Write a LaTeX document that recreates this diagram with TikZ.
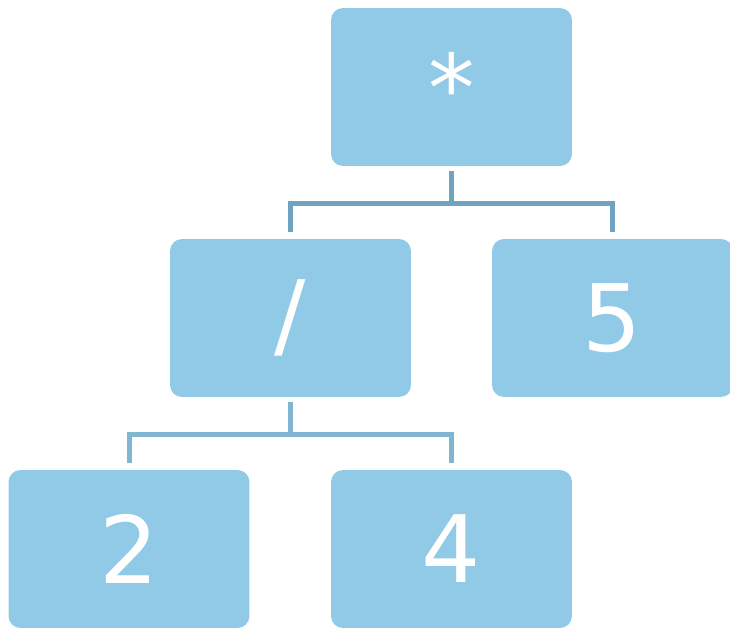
\documentclass[tikz,border=0pt]{standalone}
\usepackage{fontspec}
\setmainfont{DejaVu Sans}
\usepackage{tikz}
\usetikzlibrary{positioning}

\definecolor{boxblue}{HTML}{90CAE6}
\definecolor{linkdark}{HTML}{6FA3BF}
\definecolor{linklight}{HTML}{80B6CF}

\tikzset{
  opbox/.style={fill=boxblue, rounded corners=0.24cm, minimum width=4.82cm,
    minimum height=3.16cm, inner sep=0pt, text=white,
    font=\fontsize{53}{60}\selectfont},
  link/.style={line width=0.1cm}
}

\begin{document}
\begin{tikzpicture}[x=0.02cm,y=-0.02cm]

\useasboundingbox (0,0) rectangle (730,629);

\node [opbox] (times) at (451.5,87) {*};
\node [opbox] (divide) at (290.5,318) {/};
\node [opbox] (five) at (612.5,318) {5};
\node [opbox] (two) at (129,549) {2};
\node [opbox] (four) at (451.5,549) {4};

\coordinate (j1) at (451.5,203);
\coordinate (j2) at (290.5,434);

% first level
\draw [link, linkdark, shorten <=0.1cm] (times.south) -- (j1);
\draw [link, linkdark, shorten <=0.13cm] (divide.north) |- (j1);
\draw [link, linkdark, shorten >=0.13cm] (j1) -| (five.north);

% second level
\draw [link, linklight, shorten <=0.1cm] (divide.south) -- (j2);
\draw [link, linklight, shorten <=0.13cm] (two.north) |- (j2);
\draw [link, linklight, shorten >=0.13cm] (j2) -| (four.north);

\end{tikzpicture}
\end{document}
